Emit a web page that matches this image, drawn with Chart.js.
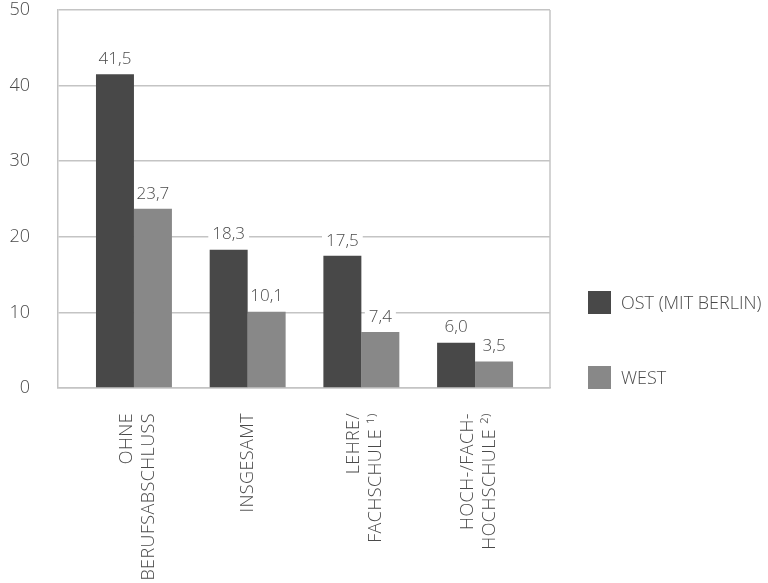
<!DOCTYPE html>
<html>
<head>
<meta charset="utf-8">
<script src="https://cdn.jsdelivr.net/npm/chart.js@4/dist/chart.umd.min.js"></script>
<style>
  html, body { margin: 0; padding: 0; background: #fff; }
</style>
</head>
<body>
<canvas id="chart" width="768" height="583"></canvas>
<script>
// data
var categories = [['OHNE', 'BERUFSABSCHLUSS'], ['INSGESAMT'], ['LEHRE/', 'FACHSCHULE \u00b9\u207e'], ['HOCH-/FACH-', 'HOCHSCHULE \u00b2\u207e']];
var seriesNames = ['OST (MIT BERLIN)', 'WEST'];
var ostValues = [41.5, 18.3, 17.5, 6.0];
var westValues = [23.7, 10.1, 7.4, 3.5];
var yTicks = [0, 10, 20, 30, 40, 50];

var FONT = '"Open Sans", "DejaVu Sans", sans-serif';
var TXT = '#4a4a4a';
var GRID = '#c4c4c4';

function fmt(v){ return v.toFixed(1).replace('.', ','); }

// move categories so groups sit where the original puts them inside the frame,
// give the category labels a little letter spacing and center two-line labels on the tick
var xShift = {
	id: 'xShift',
	afterLayout: function(chart){
		var s = chart.scales.x;
		s._startValue = -0.668;
		s._valueRange = 4.327;
		if (!s._spaced) {
			var orig = s.drawLabels;
			s.drawLabels = function(area){
				this.getLabelItems(area).forEach(function(it){
					if (!it._moved && Array.isArray(it.label) && it.label.length > 1) {
						it.options.translation[0] -= 7;
						it._moved = true;
					}
				});
				this.ctx.save();
				this.ctx.letterSpacing = '0.4px';
				orig.call(this, area);
				this.ctx.restore();
			};
			s._spaced = true;
		}
	}
};

// value labels with white knock-out behind them
var valueLabels = {
	id: 'valueLabels',
	beforeDatasetsDraw: function(chart){
		var ctx = chart.ctx;
		ctx.save();
		ctx.font = '300 17px ' + FONT;
		chart.data.datasets.forEach(function(ds, di){
			chart.getDatasetMeta(di).data.forEach(function(bar, i){
				var w = ctx.measureText(fmt(ds.data[i])).width + 8;
				ctx.fillStyle = '#fff';
				ctx.fillRect(bar.x - w/2, bar.y - 15 - 10, w, 20);
			});
		});
		ctx.restore();
	},
	afterDatasetsDraw: function(chart){
		var ctx = chart.ctx;
		ctx.save();
		ctx.font = '300 17px ' + FONT;
		ctx.textAlign = 'center';
		ctx.textBaseline = 'middle';
		ctx.fillStyle = TXT;
		chart.data.datasets.forEach(function(ds, di){
			chart.getDatasetMeta(di).data.forEach(function(bar, i){
				ctx.fillText(fmt(ds.data[i]), bar.x, bar.y - 15);
			});
		});
		ctx.restore();
	}
};

// right edge of the frame + legend on the right
var frameLegend = {
	id: 'frameLegend',
	beforeDatasetsDraw: function(chart){
		var a = chart.chartArea, ctx = chart.ctx;
		ctx.save();
		ctx.strokeStyle = GRID;
		ctx.lineWidth = 1.5;
		ctx.beginPath();
		ctx.moveTo(a.right, a.top);
		ctx.lineTo(a.right, a.bottom);
		ctx.stroke();
		ctx.restore();
	},
	afterDraw: function(chart){
		var a = chart.chartArea, ctx = chart.ctx;
		ctx.save();
		ctx.font = '300 18px ' + FONT;
		ctx.textBaseline = 'middle';
		chart.data.datasets.forEach(function(ds, i){
			var top = a.bottom - 97 + i * 75;
			ctx.fillStyle = ds.backgroundColor;
			ctx.fillRect(a.right + 38, top, 23, 23);
			ctx.fillStyle = TXT;
			ctx.fillText(ds.label, a.right + 71, top + 13);
		});
		ctx.restore();
	}
};

new Chart(document.getElementById('chart').getContext('2d'), {
	type: 'bar',
	data: {
		labels: categories,
		datasets: [
			{ label: seriesNames[0], data: ostValues, backgroundColor: '#484848' },
			{ label: seriesNames[1], data: westValues, backgroundColor: '#888888' }
		]
	},
	options: {
		responsive: false,
		animation: false,
		devicePixelRatio: 1,
		layout: { padding: { top: 10, right: 218, bottom: 0, left: 0 } },
		datasets: { bar: { categoryPercentage: 0.668, barPercentage: 1.0 } },
		plugins: {
			legend: { display: false },
			tooltip: { enabled: false }
		},
		scales: {
			x: {
				grid: { display: false },
				border: { display: true, color: GRID, width: 1.5 },
				ticks: {
					minRotation: 90, maxRotation: 90, autoSkip: false,
					padding: 17, color: TXT,
					font: { family: FONT, size: 18, weight: 300, lineHeight: 1.2 }
				},
				afterFit: function(s){ s.height = 195; }
			},
			y: {
				min: 0, max: 50,
				grid: { color: GRID, lineWidth: 1.5, drawTicks: false },
				border: { display: true, color: GRID, width: 1.5 },
				ticks: {
					padding: 28, color: TXT,
					font: { family: FONT, size: 18, weight: 300 }
				},
				afterBuildTicks: function(s){ s.ticks = yTicks.map(function(v){ return { value: v }; }); },
				afterFit: function(s){ s.width = 58; s.paddingTop = 0; s.paddingBottom = 0; }
			}
		}
	},
	plugins: [xShift, valueLabels, frameLegend]
});
</script>
</body>
</html>
